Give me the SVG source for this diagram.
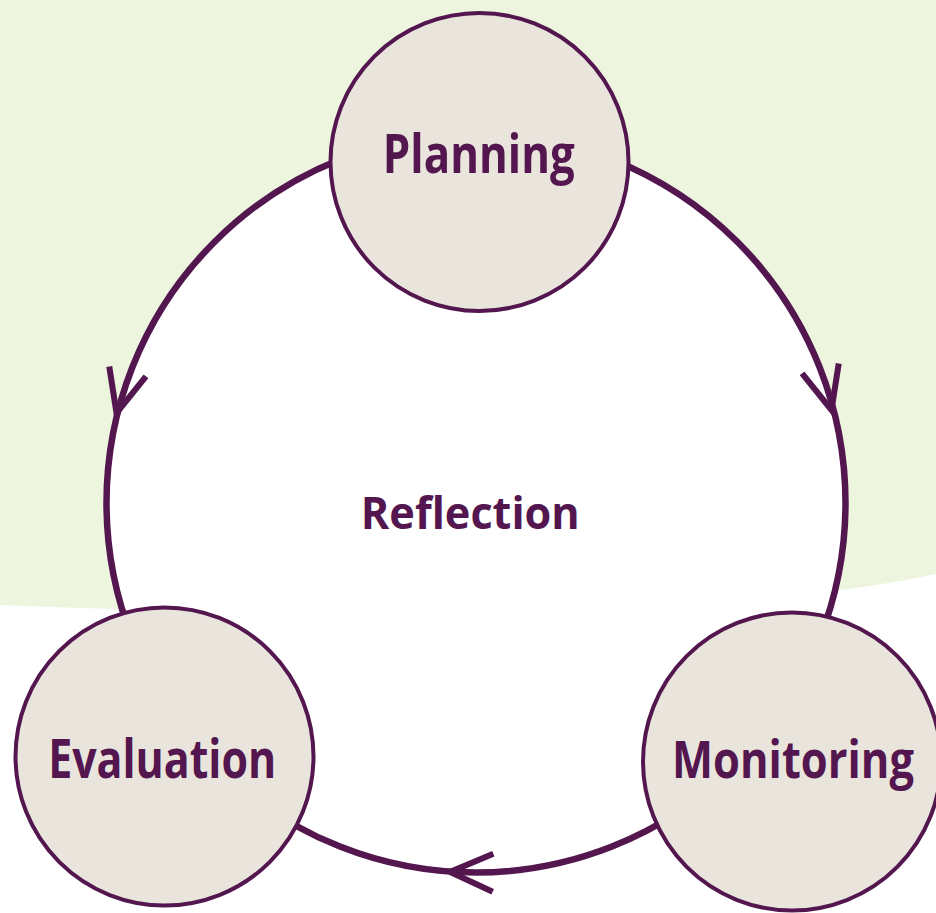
<svg xmlns="http://www.w3.org/2000/svg" width="936" height="913" viewBox="0 0 936 913">
<style>
.node{fill:#E9E5DC;stroke:#53164F;stroke-width:4}
.lbl{font-family:"Open Sans","Noto Sans",sans-serif;font-weight:700;fill:#53164F;text-anchor:middle}
.cyc{fill:#FFFFFF;stroke:#53164F;stroke-width:6.5}
.arr{fill:none;stroke:#53164F;stroke-width:6;stroke-linecap:butt;stroke-linejoin:miter}
</style>
<defs>
<path id="chev" d="M-43,-19 L0,0 L-43,19"/>
</defs>
<rect x="0" y="0" width="936" height="913" fill="#FFFFFF"/>
<path d="M0,0 H936 V574 C760,612 420,622 0,605 Z" fill="#EDF5DE"/>
<g id="connectors">
<circle class="cyc" cx="476" cy="503" r="369.5"/>
<use href="#chev" class="arr" transform="translate(116.5,413) rotate(105)"/>
<use href="#chev" class="arr" transform="translate(831.5,410) rotate(75)"/>
<use href="#chev" class="arr" transform="translate(450,872) rotate(181)"/>
</g>
<g id="reflection">
<text class="lbl" x="470.3" y="529" font-size="45" textLength="219" lengthAdjust="spacingAndGlyphs">Reflection</text>
</g>
<g id="planning">
<circle class="node" cx="479.5" cy="162" r="149"/>
<text class="lbl" x="478.8" y="172.7" font-size="54" textLength="192" lengthAdjust="spacingAndGlyphs">Planning</text>
</g>
<g id="evaluation">
<circle class="node" cx="164.5" cy="756.5" r="149"/>
<text class="lbl" x="162.2" y="778.3" font-size="53" textLength="228" lengthAdjust="spacingAndGlyphs">Evaluation</text>
</g>
<g id="monitoring">
<circle class="node" cx="792" cy="761.5" r="149"/>
<text class="lbl" x="793" y="777.7" font-size="52" textLength="242" lengthAdjust="spacingAndGlyphs">Monitoring</text>
</g>
</svg>
